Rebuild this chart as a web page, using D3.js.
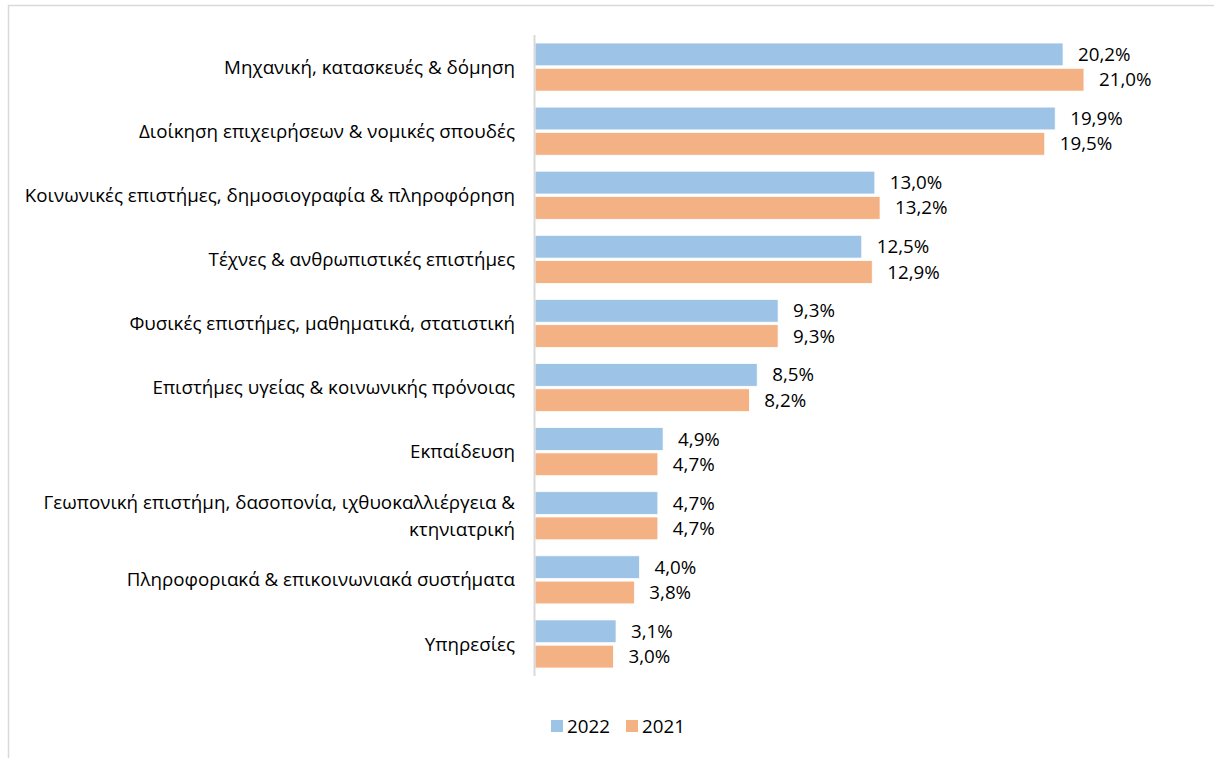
<!DOCTYPE html>
<html>
<head>
<meta charset="utf-8">
<script src="https://cdn.jsdelivr.net/npm/d3@7"></script>
<style>
  body { margin: 0; background: #fff; }
  svg text { font-family: "Open Sans", sans-serif; fill: #000; }
</style>
</head>
<body>
<div id="chart-area"></div>
<script>
const categories = [
  "Μηχανική, κατασκευές & δόμηση",
  "Διοίκηση επιχειρήσεων & νομικές σπουδές",
  "Κοινωνικές επιστήμες, δημοσιογραφία & πληροφόρηση",
  "Τέχνες & ανθρωπιστικές επιστήμες",
  "Φυσικές επιστήμες, μαθηματικά, στατιστική",
  "Επιστήμες υγείας & κοινωνικής πρόνοιας",
  "Εκπαίδευση",
  "Γεωπονική επιστήμη, δασοπονία, ιχθυοκαλλιέργεια & κτηνιατρική",
  "Πληροφοριακά & επικοινωνιακά συστήματα",
  "Υπηρεσίες"
];
// wrapped label lines (the long one breaks in two)
const categoryLines = [
  ["Μηχανική, κατασκευές & δόμηση"],
  ["Διοίκηση επιχειρήσεων & νομικές σπουδές"],
  ["Κοινωνικές επιστήμες, δημοσιογραφία & πληροφόρηση"],
  ["Τέχνες & ανθρωπιστικές επιστήμες"],
  ["Φυσικές επιστήμες, μαθηματικά, στατιστική"],
  ["Επιστήμες υγείας & κοινωνικής πρόνοιας"],
  ["Εκπαίδευση"],
  ["Γεωπονική επιστήμη, δασοπονία, ιχθυοκαλλιέργεια &", "κτηνιατρική"],
  ["Πληροφοριακά & επικοινωνιακά συστήματα"],
  ["Υπηρεσίες"]
];
const seriesNames = ["2022", "2021"];
const values2022 = [20.2, 19.9, 13.0, 12.5, 9.3, 8.5, 4.9, 4.7, 4.0, 3.1];
const values2021 = [21.0, 19.5, 13.2, 12.9, 9.3, 8.2, 4.7, 4.7, 3.8, 3.0];
const colors = ["#9DC3E6", "#F4B183"];

const W = 1214, H = 758;
const margin = { top: 35, right: 26, bottom: 82, left: 535 };
const width = W - margin.left - margin.right;
const height = H - margin.top - margin.bottom;
const fontSize = "18.75px";

const svg = d3.select("#chart-area")
  .append("svg")
  .attr("width", W)
  .attr("height", H);

// outer chart frame
svg.append("rect")
  .attr("x", 8.5).attr("y", 5.5)
  .attr("width", W + 10).attr("height", H + 10)
  .attr("fill", "none")
  .attr("stroke", "#d9d9d9")
  .attr("stroke-width", 1.5);

const g = svg.append("g")
  .attr("transform", `translate(${margin.left}, ${margin.top})`);

const xScale = d3.scaleLinear().domain([0, 25]).range([0, 653.5]);
const yScale = d3.scaleBand()
  .domain(categories)
  .range([0, height])
  .paddingInner(0.25)
  .paddingOuter(0.125);
const subScale = d3.scaleBand()
  .domain(seriesNames)
  .range([0, yScale.bandwidth()])
  .paddingInner(0.1);

const data = categories.map((c, i) => ({
  cat: c,
  lines: categoryLines[i],
  vals: [values2022[i], values2021[i]]
}));

const groups = g.selectAll(".grp")
  .data(data)
  .enter()
  .append("g")
  .attr("class", "grp")
  .attr("transform", d => `translate(0, ${yScale(d.cat)})`);

groups.selectAll("rect")
  .data(d => d.vals.map((v, j) => ({ v, s: seriesNames[j], j })))
  .enter()
  .append("rect")
  .attr("x", 0)
  .attr("y", d => subScale(d.s))
  .attr("width", d => xScale(d.v))
  .attr("height", subScale.bandwidth())
  .attr("fill", d => colors[d.j])
  .attr("stroke", "#fff")
  .attr("stroke-width", 0.75);

groups.selectAll(".val")
  .data(d => d.vals.map((v, j) => ({ v, s: seriesNames[j], j })))
  .enter()
  .append("text")
  .attr("class", "val")
  .attr("x", d => xScale(d.v) + 15)
  .attr("y", d => subScale(d.s) + subScale.bandwidth() / 2)
  .attr("dy", "0.35em")
  .attr("font-size", fontSize)
  .text(d => d3.format(".1f")(d.v).replace(".", ",") + "%");

// category labels
const catLabels = g.selectAll(".cat")
  .data(data)
  .enter()
  .append("text")
  .attr("class", "cat")
  .attr("text-anchor", "end")
  .attr("font-size", fontSize)
  .attr("y", d => yScale(d.cat) + yScale.bandwidth() / 2);

catLabels.selectAll("tspan")
  .data(d => d.lines.map((l, k) => ({ l, k, n: d.lines.length })))
  .enter()
  .append("tspan")
  .attr("x", -20)
  .attr("dy", d => d.k === 0 ? `${0.35 - (d.n - 1) * 0.72}em` : "1.44em")
  .text(d => d.l);

// vertical axis line
g.append("line")
  .attr("x1", -0.5).attr("x2", -0.5)
  .attr("y1", 0).attr("y2", height)
  .attr("stroke", "#d9d9d9")
  .attr("stroke-width", 2);

// Legend
const legend = svg.append("g")
  .attr("transform", "translate(551, 720)");
const legendX = [0, 75];
seriesNames.forEach((s, i) => {
  legend.append("rect")
    .attr("x", legendX[i]).attr("y", 0)
    .attr("width", 12).attr("height", 12)
    .attr("fill", colors[i]);
  legend.append("text")
    .attr("x", legendX[i] + 16).attr("y", 6)
    .attr("dy", "0.35em")
    .attr("font-size", fontSize)
    .text(s);
});
</script>
</body>
</html>
